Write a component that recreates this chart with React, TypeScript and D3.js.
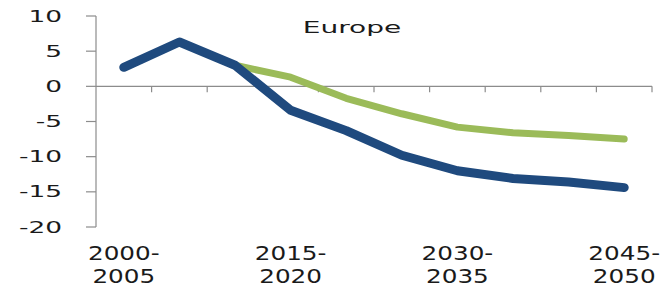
import * as d3 from 'd3'
import { useEffect, useRef } from 'react'

// periods (10 five-year bins), only every third one gets a label
const periods = ['2000-2005', '2005-2010', '2010-2015', '2015-2020', '2020-2025', '2025-2030', '2030-2035', '2035-2040', '2040-2045', '2045-2050']
const labelledPeriods = ['2000-2005', '2015-2020', '2030-2035', '2045-2050']
const yTicks = [10, 5, 0, -5, -10, -15, -20]

// dark blue series
const blueValues = [2.7, 6.3, 3.0, -3.4, -6.3, -9.8, -12.0, -13.1, -13.6, -14.4]
// green series starts at 2010-2015
const greenValues = [null, null, 3.0, 1.3, -1.7, -3.9, -5.8, -6.6, -7.0, -7.5]

const title = 'Europe'

export default function App () {
    const svgRef = useRef(null)

    useEffect(() => {
        const width = 663
        const height = 287
        const margin = { left: 96, right: 11, top: 16, bottom: 60 }
        const font = 'DejaVu Sans, Verdana, sans-serif'

        const svg = d3.select(svgRef.current)
        svg.selectAll('*').remove()

        const x = d3.scaleBand()
            .domain(periods)
            .range([margin.left, width - margin.right])

        const y = d3.scaleLinear()
            .domain([-20, 10])
            .range([height - margin.bottom, margin.top])

        const cx = (d) => x(d) + x.bandwidth() / 2

        // y axis line + ticks
        svg.append('line')
            .attr('x1', margin.left).attr('x2', margin.left)
            .attr('y1', y(10)).attr('y2', y(-20))
            .attr('stroke', '#8c8c8c').attr('stroke-width', 1.2)

        svg.selectAll('.ytick')
            .data(yTicks)
            .join('line')
            .attr('x1', margin.left - 10).attr('x2', margin.left)
            .attr('y1', d => y(d)).attr('y2', d => y(d))
            .attr('stroke', '#8c8c8c').attr('stroke-width', 1.2)

        svg.selectAll('.ylab')
            .data(yTicks)
            .join('text')
            .attr('transform', d => `translate(62,${y(d)}) scale(1.6,1)`)
            .attr('text-anchor', 'end')
            .attr('dominant-baseline', 'central')
            .style('font-family', font)
            .style('font-size', '16.5px')
            .style('fill', '#1a1a1a')
            .text(d => d)

        // zero line with category ticks
        svg.append('line')
            .attr('x1', margin.left).attr('x2', width - margin.right)
            .attr('y1', y(0)).attr('y2', y(0))
            .attr('stroke', '#8c8c8c').attr('stroke-width', 1.2)

        const bounds = periods.map(p => x(p)).concat([x(periods[periods.length - 1]) + x.bandwidth()]).slice(1)
        svg.selectAll('.xtick')
            .data(bounds)
            .join('line')
            .attr('x1', d => d).attr('x2', d => d)
            .attr('y1', y(0)).attr('y2', y(0) + 6)
            .attr('stroke', '#8c8c8c').attr('stroke-width', 1.2)

        // category labels on two lines
        const xl = svg.selectAll('.xlab')
            .data(labelledPeriods)
            .join('text')
            .attr('transform', d => `translate(${cx(d)},0) scale(1.3,1)`)
            .attr('text-anchor', 'middle')
            .style('font-family', font)
            .style('font-size', '19px')
            .style('fill', '#1a1a1a')
        xl.append('tspan').attr('x', 0).attr('y', 260).text(d => d.split('-')[0] + '-')
        xl.append('tspan').attr('x', 0).attr('y', 283).text(d => d.split('-')[1])

        // series
        const line = d3.line()
            .defined(d => d.v !== null)
            .x(d => cx(d.p))
            .y(d => y(d.v))

        svg.append('path')
            .datum(periods.map((p, i) => ({ p, v: greenValues[i] })))
            .attr('d', line)
            .attr('fill', 'none')
            .attr('stroke', '#9bbb59')
            .attr('stroke-width', 7)
            .attr('stroke-linejoin', 'round')
            .attr('stroke-linecap', 'round')

        svg.append('path')
            .datum(periods.map((p, i) => ({ p, v: blueValues[i] })))
            .attr('d', line)
            .attr('fill', 'none')
            .attr('stroke', '#1f4a7e')
            .attr('stroke-width', 9)
            .attr('stroke-linejoin', 'round')
            .attr('stroke-linecap', 'round')

        // title
        svg.append('text')
            .attr('transform', 'translate(352,33) scale(1.7,1)')
            .attr('text-anchor', 'middle')
            .style('font-family', font)
            .style('font-size', '16.5px')
            .style('fill', '#1a1a1a')
            .text(title)
    }, [])

    return (
        <svg ref={svgRef} width={663} height={287} style={{ position: 'absolute', left: 0, top: 0, background: '#fff' }} />
    )
}
